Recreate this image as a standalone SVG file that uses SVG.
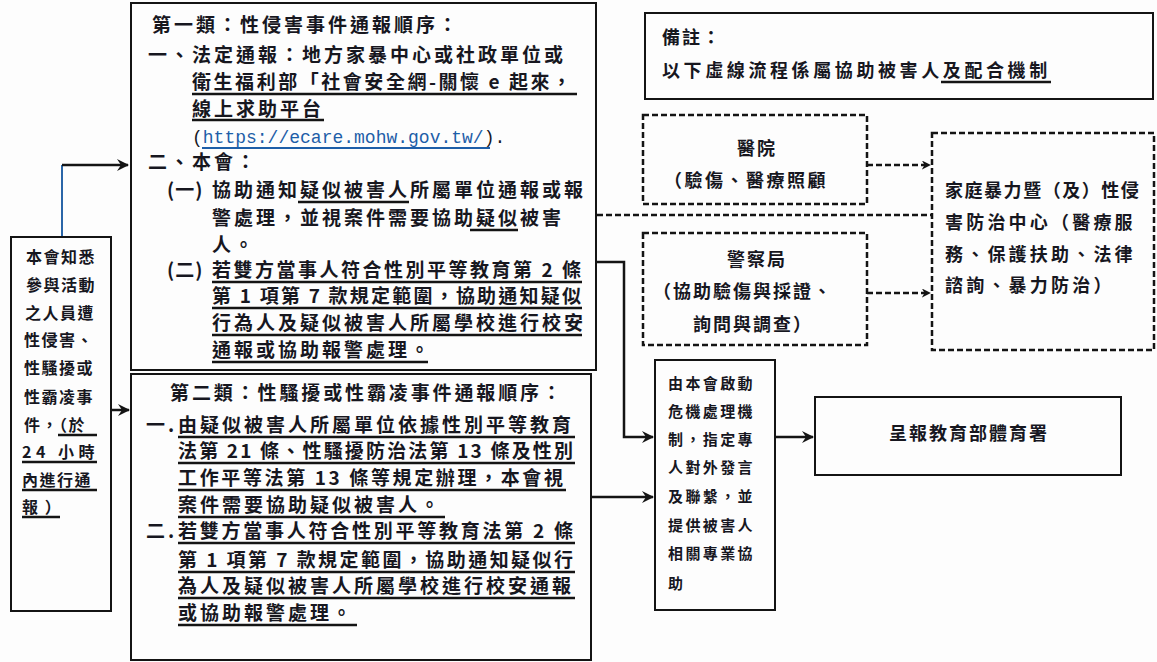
<svg xmlns="http://www.w3.org/2000/svg" width="1157" height="662" viewBox="0 0 1157 662">
<style>
text{font-family:"Noto Sans CJK TC","Noto Sans CJK SC",sans-serif;font-weight:bold;fill:#17171f}
.t20{font-size:19px;letter-spacing:3px}
.t18{font-size:18px;letter-spacing:2px}
.t16{font-size:16px;letter-spacing:1.5px}
.t15{font-size:15px;letter-spacing:2.4px}
.dv{font-size:18px;letter-spacing:3.2px}
.url{font-family:"Liberation Mono",monospace;font-size:18px;font-weight:normal;letter-spacing:0}
.box{fill:none;stroke:#141414;stroke-width:2}
.dbox{fill:none;stroke:#141414;stroke-width:2.5;stroke-dasharray:6 3}
.ul{stroke:#141414;stroke-width:2.5}
.con{fill:none;stroke:#141414;stroke-width:2.5}
.dcon{fill:none;stroke:#141414;stroke-width:2.5;stroke-dasharray:6 3}
</style>
<defs>
<marker id="ah" viewBox="0 0 12 12" refX="11" refY="6" markerWidth="12" markerHeight="12" markerUnits="userSpaceOnUse" orient="auto">
<path d="M0,0 L12,6 L0,12 L4,6 z" fill="#141414"/>
</marker>
<marker id="ahs" viewBox="0 0 10 10" refX="9" refY="5" markerWidth="9" markerHeight="9" markerUnits="userSpaceOnUse" orient="auto">
<path d="M0,0 L10,5 L0,10 L3,5 z" fill="#141414"/>
</marker>
</defs>
<rect width="1157" height="662" fill="#fdfdfd"/>

<g id="connectors">
<path d="M62,237 V165" fill="none" stroke="#2a66a8" stroke-width="2"/>
<path class="con" d="M62,165 H128" marker-end="url(#ah)"/>
<path class="con" d="M111,410 H129" marker-end="url(#ah)"/>
<path class="con" d="M596,262 H624 V437 H653" marker-end="url(#ah)"/>
<path class="con" d="M591,497 H653" marker-end="url(#ah)"/>
<path class="con" d="M775,437 H813" marker-end="url(#ah)"/>
<path class="dcon" d="M867,165 H930" marker-end="url(#ahs)"/>
<path class="dcon" d="M867,293 H930" marker-end="url(#ahs)"/>
<path class="dcon" d="M597,215 H932"/>
</g>

<g id="reporter">
<rect class="box" x="11" y="237" width="100" height="374"/>
<text class="t16" x="26" y="263">本會知悉</text>
<text class="t16" x="26" y="291">參與活動</text>
<text class="t16" x="25" y="319">之人員遭</text>
<text class="t16" x="24" y="346">性侵害、</text>
<text class="t16" x="24" y="374">性騷擾或</text>
<text class="t16" x="24" y="403">性霸凌事</text>
<text class="t16" x="24" y="431">件，（於</text>
<text class="t16" x="22" y="458" textLength="74" lengthAdjust="spacing">24 小時</text>
<text class="t16" x="22" y="486">內進行通</text>
<text class="t16" x="22" y="513">報 ）</text>
<line class="ul" x1="58" y1="435" x2="97" y2="435"/>
<line class="ul" x1="22" y1="462" x2="97" y2="462"/>
<line class="ul" x1="22" y1="490" x2="97" y2="490"/>
<line class="ul" x1="22" y1="517" x2="60" y2="517"/>
</g>

<g id="category1">
<rect class="box" x="131" y="3" width="465" height="367"/>
<text class="t20" x="152" y="32">第一類：性侵害事件通報順序：</text>
<text class="t20" x="148" y="62">一、法定通報：地方家暴中心或社政單位或</text>
<text class="t20" x="192" y="89" textLength="382" lengthAdjust="spacing">衛生福利部「社會安全網-關懷 e 起來，</text>
<line class="ul" x1="192" y1="94" x2="577" y2="94"/>
<text class="t20" x="192" y="116">線上求助平台</text>
<line class="ul" x1="192" y1="120" x2="324" y2="120"/>
<text x="192" y="143" class="url">(<tspan style="fill:#1d5ea8">https://ecare.mohw.gov.tw/</tspan>).</text>
<line x1="202" y1="148" x2="490" y2="148" stroke="#1d5ea8" stroke-width="2"/>
<text class="t20" x="148" y="169">二、本會：</text>
<text class="t20" x="167" y="197" style="letter-spacing:1px">(一)</text>
<text class="t20" x="212" y="197">協助通知疑似被害人所屬單位通報或報</text>
<line class="ul" x1="298" y1="202" x2="409" y2="202"/>
<text class="t20" x="212" y="225">警處理，並視案件需要協助疑似被害</text>
<line class="ul" x1="470" y1="230" x2="518" y2="230"/>
<text class="t20" x="212" y="252">人。</text>
<text class="t20" x="167" y="277" style="letter-spacing:1px">(二)</text>
<text class="t20" x="212" y="277" textLength="372" lengthAdjust="spacing">若雙方當事人符合性別平等教育第 2 條</text>
<line class="ul" x1="212" y1="282" x2="582" y2="282"/>
<text class="t20" x="212" y="303" textLength="372" lengthAdjust="spacing">第 1 項第 7 款規定範圍，協助通知疑似</text>
<line class="ul" x1="212" y1="308" x2="582" y2="308"/>
<text class="t20" x="212" y="330">行為人及疑似被害人所屬學校進行校安</text>
<line class="ul" x1="212" y1="335" x2="582" y2="335"/>
<text class="t20" x="212" y="357">通報或協助報警處理。</text>
<line class="ul" x1="212" y1="362" x2="428" y2="362"/>
</g>

<g id="category2">
<rect class="box" x="131" y="374" width="460" height="286"/>
<text class="t20" x="170" y="400" textLength="394" lengthAdjust="spacing">第二類：性騷擾或性霸凌事件通報順序：</text>
<text class="t20" x="146" y="432">一.</text>
<text class="t20" x="178" y="432">由疑似被害人所屬單位依據性別平等教育</text>
<line class="ul" x1="178" y1="437" x2="575" y2="437"/>
<text class="t20" x="178" y="458" textLength="398" lengthAdjust="spacing">法第 21 條、性騷擾防治法第 13 條及性別</text>
<line class="ul" x1="178" y1="463" x2="575" y2="463"/>
<text class="t20" x="178" y="485" textLength="388" lengthAdjust="spacing">工作平等法第 13 條等規定辦理，本會視</text>
<line class="ul" x1="178" y1="490" x2="566" y2="490"/>
<text class="t20" x="178" y="512">案件需要協助疑似被害人。</text>
<line class="ul" x1="178" y1="517" x2="445" y2="517"/>
<text class="t20" x="146" y="538">二.</text>
<text class="t20" x="178" y="538" textLength="398" lengthAdjust="spacing">若雙方當事人符合性別平等教育法第 2 條</text>
<line class="ul" x1="178" y1="543" x2="575" y2="543"/>
<text class="t20" x="178" y="567" textLength="398" lengthAdjust="spacing">第 1 項第 7 款規定範圍，協助通知疑似行</text>
<line class="ul" x1="178" y1="572" x2="575" y2="572"/>
<text class="t20" x="178" y="593">為人及疑似被害人所屬學校進行校安通報</text>
<line class="ul" x1="178" y1="598" x2="575" y2="598"/>
<text class="t20" x="178" y="620">或協助報警處理。</text>
<line class="ul" x1="178" y1="625" x2="357" y2="625"/>
</g>

<g id="note">
<rect class="box" x="645" y="13" width="508" height="86"/>
<text class="t18" x="662" y="44">備註：</text>
<text x="662" y="77" style="font-size:18px;letter-spacing:3.6px">以下虛線流程係屬協助被害人及配合機制</text>
<line class="ul" x1="941" y1="82" x2="1051" y2="82"/>
</g>

<g id="hospital">
<rect class="dbox" x="643" y="115" width="224" height="89"/>
<text class="t18" x="757" y="155" text-anchor="middle">醫院</text>
<text x="664" y="187" style="font-size:18px;letter-spacing:2.5px">（驗傷、醫療照顧</text>
</g>

<g id="police">
<rect class="dbox" x="643" y="233" width="224" height="112"/>
<text class="t18" x="757" y="266" text-anchor="middle">警察局</text>
<text class="t18" x="653" y="298">（協助驗傷與採證、</text>
<text class="t18" x="693" y="331">詢問與調查）</text>
</g>

<g id="dv-center">
<rect class="dbox" x="932" y="133" width="222" height="217"/>
<text class="dv" x="945" y="197" textLength="197" lengthAdjust="spacing">家庭暴力暨（及）性侵</text>
<text class="dv" x="945" y="229">害防治中心（醫療服</text>
<text class="dv" x="945" y="261">務、保護扶助、法律</text>
<text class="dv" x="945" y="292">諮詢、暴力防治）</text>
</g>

<g id="crisis">
<rect class="box" x="655" y="360" width="120" height="250"/>
<text class="t15" x="668" y="389">由本會啟動</text>
<text class="t15" x="668" y="417">危機處理機</text>
<text class="t15" x="668" y="445">制，指定專</text>
<text class="t15" x="668" y="473">人對外發言</text>
<text class="t15" x="668" y="502">及聯繫，並</text>
<text class="t15" x="668" y="531">提供被害人</text>
<text class="t15" x="668" y="559">相關專業協</text>
<text class="t15" x="668" y="589">助</text>
</g>

<g id="education">
<rect class="box" x="815" y="397" width="306" height="78"/>
<text class="t18" x="889" y="440">呈報教育部體育署</text>
</g>
</svg>
